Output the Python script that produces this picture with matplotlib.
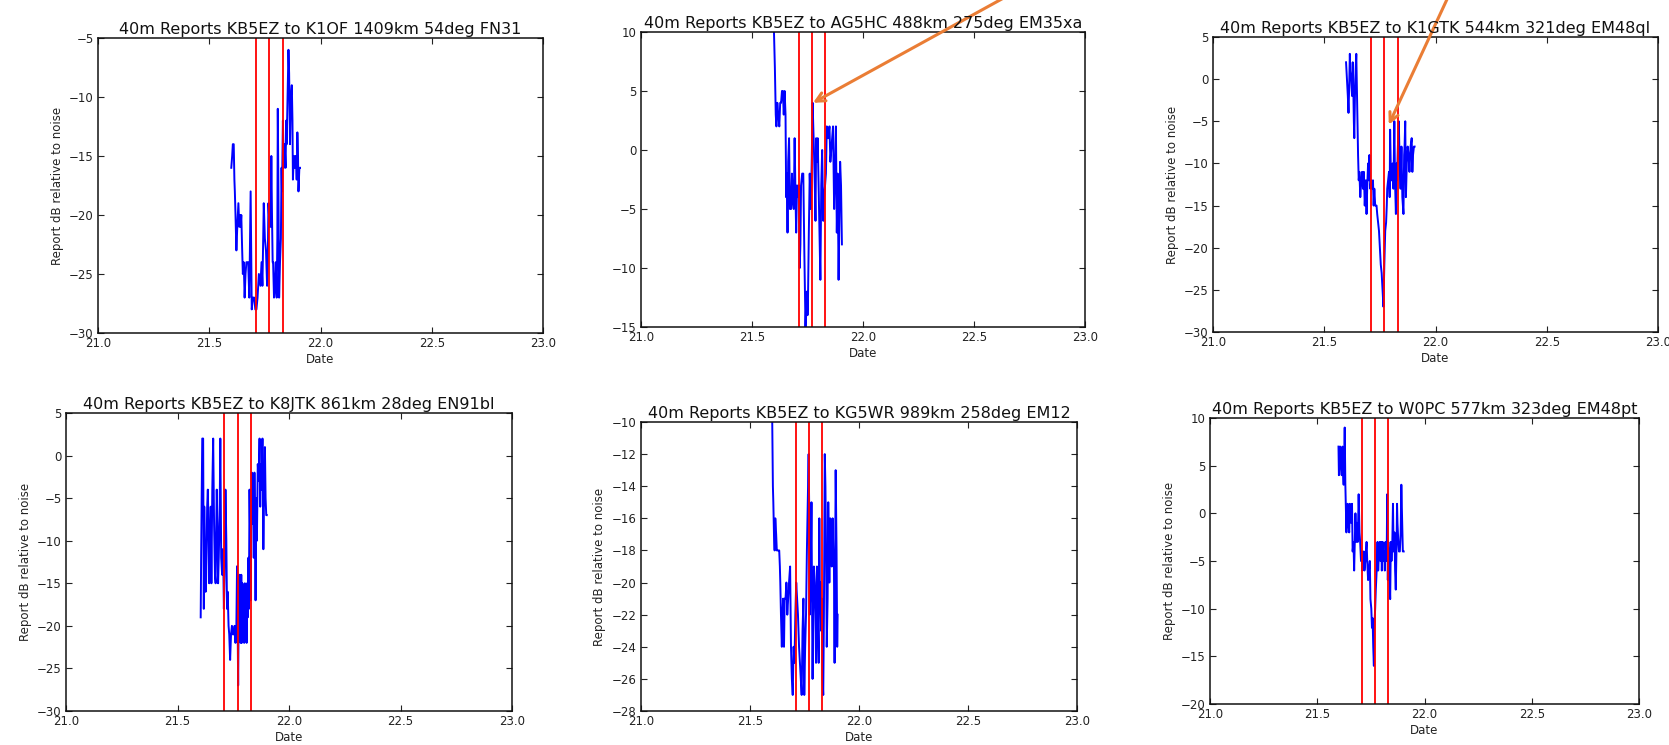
import matplotlib
matplotlib.use('Agg')
import matplotlib.pyplot as plt

W, H = 1669, 745

# red marker lines (days)
markers = [21.71, 21.77, 21.83]

titles = [
    '40m Reports KB5EZ to K1OF 1409km 54deg FN31',
    '40m Reports KB5EZ to AG5HC 488km 275deg EM35xa',
    '40m Reports KB5EZ to K1GTK 544km 321deg EM48ql',
    '40m Reports KB5EZ to K8JTK 861km 28deg EN91bl',
    '40m Reports KB5EZ to KG5WR 989km 258deg EM12',
    '40m Reports KB5EZ to W0PC 577km 323deg EM48pt',
]

ylims = [(-30, -5), (-15, 10), (-30, 5), (-30, 5), (-28, -10), (-20, 10)]
ysteps = [5, 5, 5, 5, 2, 5]

# K1OF
t1 = [21.599, 21.603, 21.606, 21.610, 21.613, 21.615, 21.618, 21.622, 21.626, 21.631,
      21.635, 21.638, 21.641, 21.644, 21.648, 21.651, 21.655, 21.659, 21.663, 21.667,
      21.671, 21.675, 21.680, 21.686, 21.691, 21.696, 21.702, 21.707, 21.712, 21.717,
      21.723, 21.730, 21.735, 21.739, 21.745, 21.750, 21.755, 21.760, 21.763, 21.766,
      21.771, 21.776, 21.779, 21.782, 21.785, 21.787, 21.791, 21.795, 21.799, 21.803,
      21.806, 21.808, 21.811, 21.814, 21.818, 21.822, 21.825, 21.827, 21.831, 21.835,
      21.839, 21.843, 21.846, 21.848, 21.852, 21.856, 21.859, 21.863, 21.867, 21.871,
      21.874, 21.876, 21.880, 21.884, 21.887, 21.890, 21.893, 21.896, 21.899, 21.901,
      21.905, 21.908]
v1 = [-16, -15, -14, -14, -17, -18, -20, -23, -21, -19,
      -21, -20, -21, -20, -23, -25, -24, -27, -25, -24,
      -24, -24, -27, -18, -28, -27, -27, -28, -28, -27,
      -25, -26, -24, -26, -19, -22, -23, -26, -24, -19,
      -21, -21, -15, -20, -24, -24, -27, -26, -24, -27,
      -22, -11, -18, -27, -24, -22, -16, -18, -12, -16,
      -14, -16, -12, -14, -10, -6, -8, -14, -10, -9,
      -12, -17, -15, -16, -15, -15, -17, -13, -15, -18,
      -16, -16]

# AG5HC
t2 = [21.599, 21.603, 21.607, 21.610, 21.614, 21.618, 21.623, 21.627, 21.631, 21.635,
      21.639, 21.643, 21.647, 21.651, 21.654, 21.657, 21.660, 21.663, 21.667, 21.671,
      21.676, 21.680, 21.683, 21.688, 21.692, 21.696, 21.699, 21.703, 21.708, 21.712,
      21.715, 21.718, 21.721, 21.726, 21.731, 21.736, 21.741, 21.744, 21.747, 21.750,
      21.752, 21.756, 21.760, 21.765, 21.769, 21.773, 21.776, 21.779, 21.783, 21.786,
      21.789, 21.792, 21.796, 21.799, 21.803, 21.808, 21.812, 21.816, 21.821, 21.825,
      21.829, 21.833, 21.837, 21.843, 21.849, 21.853, 21.857, 21.861, 21.865, 21.870,
      21.874, 21.878, 21.882, 21.886, 21.890, 21.894, 21.897, 21.901, 21.905]
v2 = [10, 7, 3, 2, 4, 3, 2, 4, 4, 5,
      5, 3, 5, 3, -4, -2, -7, -1, 1, -5,
      -5, -2, -4, -5, 1, -4, -7, -3, -4, -3,
      -10, -8, -3, -2, -2, -9, -15, -13, -12, -14,
      -13, -7, -2, -5, -1, 4, 2, 0, -3, -6,
      1, -1, 1, -2, -6, -11, -3, 0, -6, -4,
      -3, -2, 2, 1, 2, -1, 0, 1, 2, -5,
      -2, 2, -7, -2, -11, -5, -1, -3, -8]

# K1GTK
t3 = [21.598, 21.602, 21.606, 21.609, 21.612, 21.615, 21.617, 21.621, 21.625, 21.628,
      21.630, 21.633, 21.635, 21.638, 21.641, 21.644, 21.648, 21.652, 21.655, 21.658,
      21.662, 21.666, 21.670, 21.674, 21.678, 21.682, 21.685, 21.687, 21.690, 21.693,
      21.697, 21.700, 21.703, 21.707, 21.711, 21.715, 21.719, 21.722, 21.725, 21.729,
      21.732, 21.735, 21.738, 21.742, 21.746, 21.750, 21.754, 21.758, 21.762, 21.766,
      21.770, 21.774, 21.778, 21.781, 21.783, 21.787, 21.791, 21.794, 21.796, 21.800,
      21.803, 21.807, 21.811, 21.815, 21.818, 21.822, 21.825, 21.827, 21.831, 21.835,
      21.839, 21.843, 21.847, 21.851, 21.856, 21.859, 21.861, 21.864, 21.867, 21.871,
      21.875, 21.879, 21.883, 21.888, 21.893, 21.896, 21.899, 21.903, 21.906]
v3 = [2, 0, -2, -4, -1, 3, 1, 0, -2, 2,
      0, -5, -7, -2, 1, 3, -3, -9, -12, -11,
      -14, -12, -11, -13, -11, -15, -13, -12, -16, -13,
      -10, -12, -9, -13, -12, -13, -12, -15, -13, -15,
      -15, -15, -16, -17, -18, -20, -22, -23, -25, -27,
      -22, -18, -17, -15, -13, -12, -11, -14, -6, -12,
      -12, -10, -13, -5, -12, -16, -10, -12, -8, -5,
      -10, -13, -8, -14, -16, -9, -8, -5, -14, -10,
      -8, -9, -11, -8, -7, -11, -9, -8, -8]

# K8JTK
t4 = [21.604, 21.606, 21.608, 21.611, 21.615, 21.618, 21.620, 21.623, 21.626, 21.628,
      21.631, 21.633, 21.636, 21.639, 21.642, 21.645, 21.649, 21.652, 21.656, 21.660,
      21.664, 21.668, 21.671, 21.673, 21.676, 21.679, 21.682, 21.685, 21.689, 21.692,
      21.696, 21.700, 21.703, 21.705, 21.708, 21.711, 21.715, 21.719, 21.722, 21.725,
      21.729, 21.732, 21.736, 21.740, 21.744, 21.748, 21.752, 21.756, 21.760, 21.764,
      21.767, 21.770, 21.772, 21.775, 21.778, 21.780, 21.783, 21.786, 21.788, 21.791,
      21.794, 21.796, 21.799, 21.802, 21.804, 21.807, 21.810, 21.812, 21.815, 21.818,
      21.820, 21.823, 21.826, 21.828, 21.831, 21.833, 21.836, 21.839, 21.842, 21.845,
      21.847, 21.850, 21.853, 21.856, 21.860, 21.864, 21.868, 21.871, 21.873, 21.877,
      21.881, 21.885, 21.889, 21.892, 21.895, 21.898, 21.900]
v4 = [-19, -12, -6, 2, 2, -18, -6, -12, -16, -15,
      -10, -6, -4, -8, -15, -13, -6, -15, -4, 2,
      -8, -14, -15, -10, -4, -8, -15, -12, -7, 2,
      -12, -14, -11, -12, -18, -14, -4, -10, -18, -16,
      -20, -21, -24, -21, -20, -21, -21, -20, -22, -20,
      -13, -21, -27, -16, -14, -21, -22, -14, -22, -15,
      -20, -16, -22, -15, -21, -17, -22, -15, -19, -12,
      -18, -4, -10, -17, -6, -2, -8, -3, -12, -2,
      -6, -17, -5, -10, -1, -3, 2, -6, -1, -4,
      2, -11, -3, 1, -5, -7, -7]

# KG5WR
t5 = [21.602, 21.605, 21.607, 21.610, 21.613, 21.616, 21.620, 21.623, 21.626, 21.630,
      21.634, 21.637, 21.639, 21.642, 21.646, 21.649, 21.652, 21.656, 21.659, 21.663,
      21.667, 21.671, 21.675, 21.679, 21.684, 21.688, 21.692, 21.696, 21.700, 21.704,
      21.708, 21.712, 21.716, 21.720, 21.725, 21.729, 21.733, 21.737, 21.741, 21.745,
      21.749, 21.753, 21.757, 21.761, 21.765, 21.769, 21.772, 21.774, 21.778, 21.782,
      21.785, 21.787, 21.790, 21.793, 21.797, 21.800, 21.803, 21.807, 21.811, 21.815,
      21.818, 21.820, 21.823, 21.826, 21.830, 21.833, 21.836, 21.839, 21.843, 21.846,
      21.849, 21.852, 21.856, 21.859, 21.862, 21.864, 21.868, 21.872, 21.875, 21.879,
      21.882, 21.885, 21.888, 21.890, 21.893, 21.897, 21.900, 21.902]
v5 = [-10, -14, -15, -17, -18, -16, -17, -18, -18, -18,
      -18, -19, -20, -22, -24, -22, -21, -24, -21, -21,
      -20, -22, -21, -20, -19, -24, -26, -27, -24, -25,
      -22, -20, -21, -22, -24, -25, -26, -27, -23, -21,
      -27, -24, -22, -18, -15, -12, -16, -22, -20, -15,
      -22, -26, -22, -19, -20, -22, -25, -19, -22, -25,
      -16, -20, -20, -23, -21, -26, -27, -22, -12, -14,
      -18, -24, -21, -15, -18, -20, -16, -18, -19, -16,
      -18, -19, -25, -20, -13, -18, -24, -22]

# W0PC
t6 = [21.599, 21.601, 21.604, 21.607, 21.610, 21.614, 21.618, 21.621, 21.623, 21.626,
      21.628, 21.631, 21.633, 21.636, 21.638, 21.642, 21.645, 21.649, 21.652, 21.655,
      21.658, 21.662, 21.665, 21.669, 21.672, 21.676, 21.678, 21.682, 21.685, 21.689,
      21.693, 21.697, 21.700, 21.704, 21.707, 21.710, 21.713, 21.717, 21.720, 21.724,
      21.727, 21.730, 21.733, 21.737, 21.741, 21.745, 21.748, 21.752, 21.755, 21.758,
      21.761, 21.764, 21.766, 21.770, 21.773, 21.777, 21.781, 21.784, 21.788, 21.791,
      21.795, 21.798, 21.801, 21.805, 21.808, 21.812, 21.815, 21.818, 21.821, 21.824,
      21.826, 21.829, 21.831, 21.834, 21.836, 21.840, 21.843, 21.846, 21.850, 21.853,
      21.856, 21.860, 21.863, 21.866, 21.870, 21.872, 21.874, 21.878, 21.881, 21.885,
      21.889, 21.892, 21.896, 21.899, 21.903]
v6 = [7, 4, 6, 7, 5, 4, 7, 4, 3, 6,
      9, 3, 1, -2, 0, 1, -1, -2, 1, 0,
      -1, 1, -4, -3, -6, -2, 0, -3, -1, -3,
      2, -2, -3, -5, -4, -6, -5, -4, -6, -5,
      -4, -3, -5, -7, -6, -5, -9, -10, -12, -11,
      -14, -16, -12, -10, -8, -6, -3, -6, -4, -3,
      -5, -3, -6, -3, -5, -4, -6, -3, -5, -4,
      2, -7, -3, -4, -6, -9, -3, -5, -3, 1,
      -4, -2, -6, -8, -3, 1, -1, -3, -4, -4,
      -2, 3, -1, -4, -4]

times = [t1, t2, t3, t4, t5, t6]
values = [v1, v2, v3, v4, v5, v6]
has_ylabel = [True, False, True, True, True, True]

# axes boxes in pixels: left, top, right, bottom
boxes = [
    (98, 38, 543, 333),
    (641, 32, 1085, 327),
    (1213, 37, 1658, 332),
    (66, 413, 512, 711),
    (641, 422, 1077, 711),
    (1210, 418, 1639, 704),
]

fig = plt.figure(figsize=(W / 100, H / 100), dpi=100)
fig.patch.set_facecolor('white')

axes = []
for i in range(6):
    l, t, r, b = boxes[i]
    ax = fig.add_axes([l / W, 1 - b / H, (r - l) / W, (b - t) / H])
    ax.plot(times[i], values[i], color='#0000ff', lw=1.4)
    for m in markers:
        ax.axvline(m, color='#ff0000', lw=1.3)
    ax.set_xlim(21.0, 23.0)
    ax.set_ylim(*ylims[i])
    ax.set_xticks([21.0, 21.5, 22.0, 22.5, 23.0])
    ax.set_xticklabels(['21.0', '21.5', '22.0', '22.5', '23.0'])
    lo, hi = ylims[i]
    ax.set_yticks(list(range(lo, hi + 1, ysteps[i])))
    ax.tick_params(direction='in', top=True, right=True, length=4,
                   width=0.8, labelsize=8.5, pad=3, colors='#222222')
    for s in ax.spines.values():
        s.set_linewidth(1.1)
        s.set_color('#111111')
    ax.set_title(titles[i], fontsize=11.5, pad=3, color='#111111')
    ax.set_xlabel('Date', fontsize=8.5, labelpad=2, color='#222222')
    if has_ylabel[i]:
        ax.set_ylabel('Report dB relative to noise', fontsize=8.5,
                      labelpad=4, color='#222222')
    axes.append(ax)

# orange arrows coming from a note above the picture
src = (1600, H + 330)
arrow = dict(arrowstyle='->', color='#ea7d35', lw=2.2, mutation_scale=16,
             shrinkA=0, shrinkB=0)
axes[1].annotate('', xy=(21.775, 4.0), xycoords='data', xytext=src,
                 textcoords='figure pixels', arrowprops=arrow,
                 annotation_clip=False)
axes[2].annotate('', xy=(21.79, -5.4), xycoords='data', xytext=src,
                 textcoords='figure pixels', arrowprops=arrow,
                 annotation_clip=False)

fig.savefig('out.png', dpi=100)
